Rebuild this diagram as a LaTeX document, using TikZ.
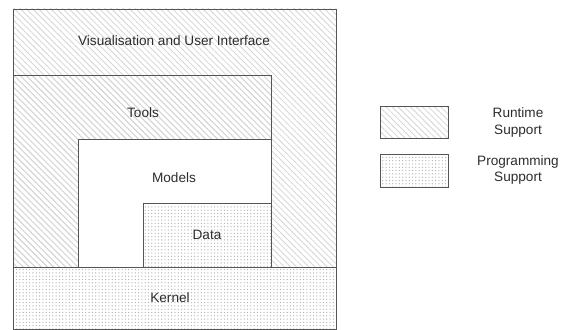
\documentclass[tikz,border=0pt]{standalone}
\usepackage{fontspec}
\setmainfont{Liberation Sans}
\usetikzlibrary{patterns.meta}
\definecolor{edge}{RGB}{85,85,85}
\definecolor{txt}{RGB}{45,45,45}
\tikzset{
  hatch/.style={draw=edge, line width=0.9pt, pattern={Lines[angle=-45,distance=4.3pt,line width=0.8pt]}, pattern color=black!16},
  dotty/.style={draw=edge, line width=0.9pt, pattern={Dots[distance=3.3pt,radius=0.65pt]}, pattern color=black!30},
  plain/.style={draw=edge, line width=0.9pt, fill=white},
  lbl/.style={text=txt, font=\fontsize{13.6}{16.5}\selectfont, align=center, inner sep=0pt}
}
\begin{document}
\begin{tikzpicture}[x=1pt,y=-1pt]
\useasboundingbox[fill=white] (0,0) rectangle (567,329);
% boxes
\path[hatch] (13,9) rectangle (336,267);
\path[hatch] (13,75) rectangle (271,267);
\path[plain] (78,139) rectangle (271,267);
\path[dotty] (143,203) rectangle (271,267);
\path[dotty] (13,267) rectangle (336,329.5);
% labels
\node[lbl] (vis) at (174,41) {Visualisation and User Interface};
\node[lbl] (tools) at (143,113) {Tools};
\node[lbl] (models) at (174,178) {Models};
\node[lbl] (data) at (207,235) {Data};
\node[lbl] (kernel) at (170,298) {Kernel};
% legend
\path[hatch] (380,106) rectangle (448,138);
\path[dotty] (380,154) rectangle (448,187);
\node[lbl] (rt) at (518,122.5) {Runtime\\Support};
\node[lbl] (ps) at (518,170) {Programming\\Support};
\end{tikzpicture}
\end{document}
